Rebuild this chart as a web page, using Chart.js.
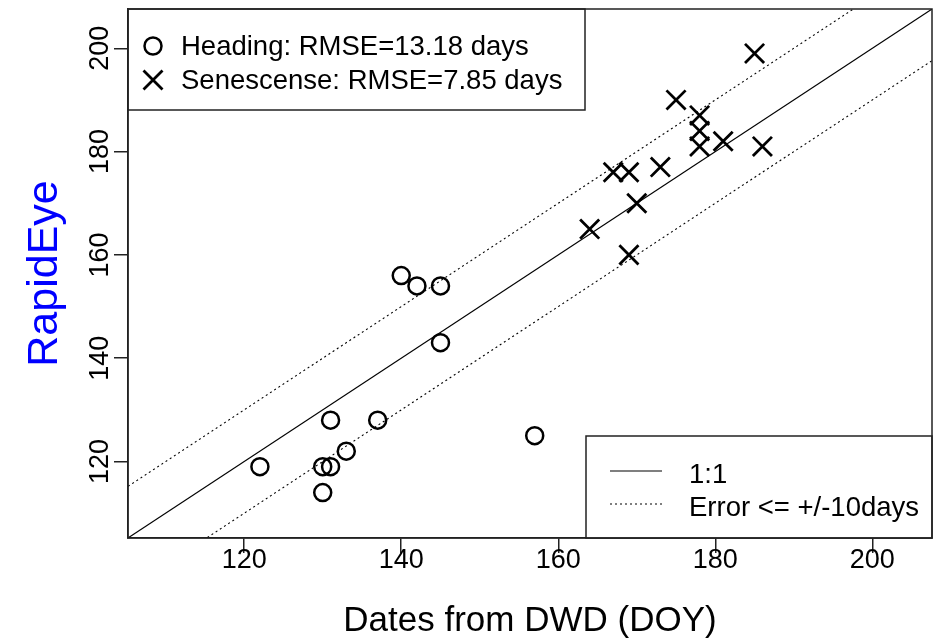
<!DOCTYPE html>
<html>
<head>
<meta charset="utf-8">
<script src="https://cdn.jsdelivr.net/npm/chart.js@4/dist/chart.umd.min.js"></script>
<style>
  html, body { margin: 0; padding: 0; background: #fff; }
  canvas { display: block; }
</style>
</head>
<body>
<canvas id="c" width="934" height="642"></canvas>
<script>
// ---- data ----
const headingX = [122, 130, 130, 131, 131, 133, 137, 140, 142, 145, 145, 157];
const headingY = [119, 114, 119, 119, 128, 122, 128, 156, 154, 154, 143, 125];
const senescenceX = [185, 175, 178, 178, 178, 181, 186, 167, 169, 173, 170, 164, 169];
const senescenceY = [199, 190, 187, 184, 181, 182, 181, 176, 176, 177, 170, 165, 160];
const tickValues = [120, 140, 160, 180, 200];
const axisRange = [105.2, 207.6];
const errorBand = 10;
const legendTop = ["Heading: RMSE=13.18 days", "Senescense: RMSE=7.85 days"];
const legendBottom = ["1:1", "Error <= +/-10days"];
const xTitle = "Dates from DWD (DOY)";
const yTitle = "RapidEye";

const FONT = "'Liberation Sans', Arial, sans-serif";
const toPts = (xs, ys) => xs.map((x, i) => ({ x: x, y: ys[i] }));
const linePts = (off) => axisRange.map(v => ({ x: v, y: v + off }));

const legendPlugin = {
  id: 'rlegend',
  afterDatasetsDraw(chart) {
    const ctx = chart.ctx, a = chart.chartArea;
    ctx.save();
    ctx.lineWidth = 1.5;
    ctx.strokeStyle = '#222';
    // top-left legend
    const b1 = { x: a.left, y: a.top, w: 457, h: 101 };
    ctx.fillStyle = '#fff';
    ctx.fillRect(b1.x, b1.y, b1.w, b1.h);
    ctx.strokeRect(b1.x, b1.y, b1.w, b1.h);
    const rows1 = [a.top + 37, a.top + 71];
    ctx.strokeStyle = '#000';
    ctx.lineWidth = 2.5;
    ctx.beginPath(); ctx.arc(a.left + 25, rows1[0], 8.5, 0, Math.PI * 2); ctx.stroke();
    ctx.lineWidth = 2.8;
    const s = 9.5;
    ctx.beginPath();
    ctx.moveTo(a.left + 25 - s, rows1[1] - s); ctx.lineTo(a.left + 25 + s, rows1[1] + s);
    ctx.moveTo(a.left + 25 - s, rows1[1] + s); ctx.lineTo(a.left + 25 + s, rows1[1] - s);
    ctx.stroke();
    ctx.fillStyle = '#000';
    ctx.font = "27.5px " + FONT;
    ctx.textBaseline = 'middle';
    ctx.textAlign = 'left';
    legendTop.forEach((t, i) => ctx.fillText(t, a.left + 53, rows1[i] + 1));
    // bottom-right legend
    const b2 = { x: a.right - 346, y: a.bottom - 102, w: 346, h: 102 };
    ctx.fillStyle = '#fff';
    ctx.fillRect(b2.x, b2.y, b2.w, b2.h);
    ctx.lineWidth = 1.5;
    ctx.strokeStyle = '#222';
    ctx.strokeRect(b2.x, b2.y, b2.w, b2.h);
    const rows2 = [b2.y + 35, b2.y + 68];
    ctx.strokeStyle = '#000';
    ctx.lineWidth = 1.2;
    ctx.beginPath(); ctx.moveTo(b2.x + 24, rows2[0]); ctx.lineTo(b2.x + 76, rows2[0]); ctx.stroke();
    ctx.setLineDash([2, 3]);
    ctx.beginPath(); ctx.moveTo(b2.x + 24, rows2[1]); ctx.lineTo(b2.x + 76, rows2[1]); ctx.stroke();
    ctx.setLineDash([]);
    ctx.fillStyle = '#000';
    legendBottom.forEach((t, i) => ctx.fillText(t, b2.x + 103, rows2[i] + 4));
    ctx.restore();
  },
  afterDraw(chart) {
    const ctx = chart.ctx, a = chart.chartArea;
    ctx.save();
    ctx.lineWidth = 1.5;
    ctx.strokeStyle = '#222';
    ctx.strokeRect(a.left, a.top, a.right - a.left, a.bottom - a.top);
    ctx.restore();
  }
};

new Chart(document.getElementById('c'), {
  type: 'scatter',
  data: {
    datasets: [
      { label: '1:1', type: 'line', data: linePts(0), borderColor: '#000', borderWidth: 1.1,
        pointRadius: 0, fill: false, order: 3 },
      { label: 'upper', type: 'line', data: linePts(errorBand), borderColor: '#000', borderWidth: 1.1,
        borderDash: [2, 3], pointRadius: 0, fill: false, order: 3 },
      { label: 'lower', type: 'line', data: linePts(-errorBand), borderColor: '#000', borderWidth: 1.1,
        borderDash: [2, 3], pointRadius: 0, fill: false, order: 3 },
      { label: 'Heading', data: toPts(headingX, headingY), pointStyle: 'circle', pointRadius: 8.5,
        pointBorderWidth: 2.5, borderColor: '#000', backgroundColor: 'rgba(0,0,0,0)', order: 1 },
      { label: 'Senescense', data: toPts(senescenceX, senescenceY), pointStyle: 'crossRot', pointRadius: 13.5,
        pointBorderWidth: 2.8, borderColor: '#000', backgroundColor: 'rgba(0,0,0,0)', order: 1 }
    ]
  },
  options: {
    responsive: false,
    animation: false,
    devicePixelRatio: 1,
    layout: { autoPadding: false, padding: { top: 9, right: 2, left: 0, bottom: 0 } },
    plugins: { legend: { display: false }, tooltip: { enabled: false } },
    scales: {
      x: {
        type: 'linear', min: axisRange[0], max: axisRange[1],
        afterBuildTicks: (sc) => { sc.ticks = tickValues.map(v => ({ value: v })); },
        afterFit: (sc) => { sc.height = 104; sc.paddingLeft = 0; sc.paddingRight = 0; },
        grid: { drawOnChartArea: false, drawTicks: true, tickLength: 15, color: '#222', lineWidth: 1.5 },
        border: { display: true, color: '#222', width: 1.5 },
        ticks: { color: '#000', font: { family: FONT, size: 27 }, padding: -9, maxRotation: 0 },
        title: { display: true, text: xTitle, color: '#000', font: { family: FONT, size: 35 },
                 padding: { top: 0, bottom: 0 } }
      },
      y: {
        type: 'linear', min: axisRange[0], max: axisRange[1],
        afterBuildTicks: (sc) => { sc.ticks = tickValues.map(v => ({ value: v })); },
        afterFit: (sc) => { sc.width = 128; sc.paddingTop = 0; sc.paddingBottom = 0; },
        grid: { drawOnChartArea: false, drawTicks: true, tickLength: 14, color: '#222', lineWidth: 1.5 },
        border: { display: true, color: '#222', width: 1.5 },
        ticks: { color: '#000', font: { family: FONT, size: 27 }, minRotation: 90, maxRotation: 90,
                 crossAlign: 'center', padding: -9 },
        title: { display: true, text: yTitle, color: '#0000ff', font: { family: FONT, size: 43 },
                 padding: { top: 19, bottom: 0 } }
      }
    }
  },
  plugins: [legendPlugin]
});
</script>
</body>
</html>
